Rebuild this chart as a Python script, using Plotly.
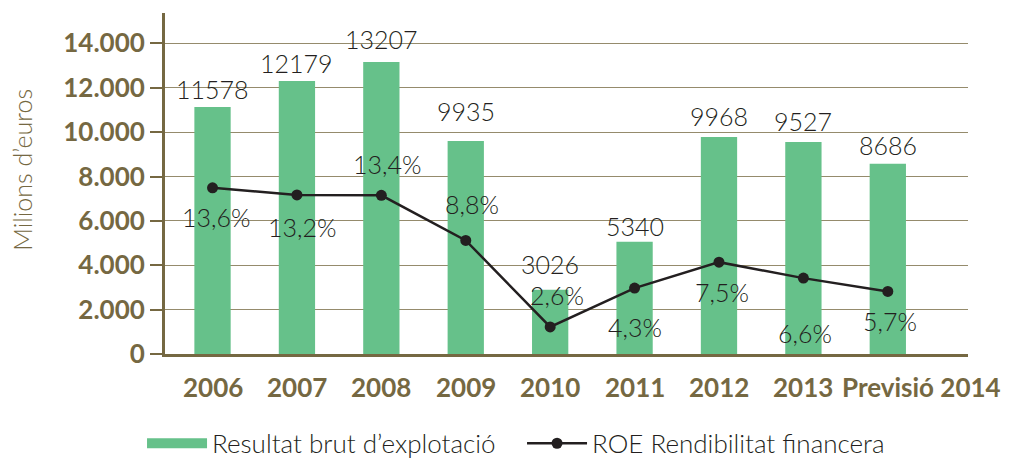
import plotly.graph_objects as go

categories = ["2006", "2007", "2008", "2009", "2010", "2011", "2012", "2013", "Previsió 2014"]
bar_values = [11130, 12310, 13160, 9600, 2900, 5060, 9780, 9560, 8570]
bar_labels = ["11578", "12179", "13207", "9935", "3026", "5340", "9968", "9527", "8686"]
roe_levels = [7490, 7170, 7150, 5120, 1220, 2970, 4140, 3420, 2820]
roe_labels = ["13,6%", "13,2%", "13,4%", "8,8%", "2,6%", "4,3%", "7,5%", "6,6%", "5,7%"]
y_tick_vals = [0, 2000, 4000, 6000, 8000, 10000, 12000, 14000]
y_tick_text = ["0", "2.000", "4.000", "6.000", "8.000", "10.000", "12.000", "14.000"]

# styling (pixel offsets for labels)
bar_label_yshift = [18, 18, 23, 30, 26, 16, 21, 21, 19]
roe_label_yshift = [-29, -32, 31, 36, 32, -39, -30, -55, -30]
roe_label_xshift = [3, 5, 6, 6, 7, 0, 3, 2, 2]
cat_label_xshift = [0, 0, 0, 0, 0, 0, 0, 0, 34]

GREEN = "#66c18a"
OLIVE = "#756842"
GRID = "#958b6c"
DARK = "#231f20"
FONT = "Lato"

x_idx = list(range(len(categories)))

fig = go.Figure()
fig.add_trace(go.Bar(
    x=x_idx, y=bar_values, marker=dict(color=GREEN, line=dict(width=0)),
    width=0.43, showlegend=False, hoverinfo="skip",
))
# legend proxy for the bars (wide swatch)
fig.add_trace(go.Scatter(
    x=[None], y=[None], mode="lines", line=dict(color=GREEN, width=13),
    name="Resultat brut d’explotació",
))
fig.add_trace(go.Scatter(
    x=x_idx, y=roe_levels, mode="lines+markers",
    line=dict(color=DARK, width=2.5),
    marker=dict(color=DARK, size=11),
    name="ROE Rendibilitat financera",
))

annotations = []
for i, (v, t) in enumerate(zip(bar_values, bar_labels)):
    annotations.append(dict(
        x=i, y=v, xref="x", yref="y", text=t, showarrow=False,
        yanchor="middle", yshift=bar_label_yshift[i],
        font=dict(family=FONT, size=25, color=DARK, weight=300),
    ))
for i, (v, t) in enumerate(zip(roe_levels, roe_labels)):
    annotations.append(dict(
        x=i, y=v, xref="x", yref="y", text=t, showarrow=False,
        yanchor="middle", yshift=roe_label_yshift[i], xshift=roe_label_xshift[i],
        font=dict(family=FONT, size=25, color=DARK, weight=300),
    ))
for i, c in enumerate(categories):
    annotations.append(dict(
        x=i, y=0, xref="x", yref="y", text=c, showarrow=False,
        yanchor="middle", yshift=-33, xshift=cat_label_xshift[i],
        font=dict(family=FONT, size=26, color=OLIVE, weight=700),
    ))
# y-axis title (placed like the reference, above the vertical centre)
annotations.append(dict(
    x=0, y=0.54, xref="paper", yref="paper", text="Milions d’euros",
    showarrow=False, textangle=-90, xanchor="center", yanchor="middle",
    xshift=-143,
    font=dict(family=FONT, size=25, color=OLIVE, weight=300),
))

fig.update_layout(
    width=1011, height=460,
    margin=dict(l=165, r=43, t=13, b=106, autoexpand=False),
    plot_bgcolor="white", paper_bgcolor="white",
    font=dict(family=FONT, color=DARK),
    annotations=annotations,
    legend=dict(
        orientation="h", x=-0.0286, xanchor="left", y=-0.262, yanchor="middle",
        font=dict(family=FONT, size=26, color=DARK, weight=300),
        itemwidth=60, tracegroupgap=0, entrywidth=305, entrywidthmode="pixels",
    ),
    xaxis=dict(
        range=[-0.563, 8.95], showticklabels=False, showgrid=False,
        showline=True, linecolor=OLIVE, linewidth=3, zeroline=False,
        ticks="", fixedrange=True, automargin=False,
    ),
    yaxis=dict(
        range=[0, 15370], tickvals=y_tick_vals, ticktext=y_tick_text,
        showgrid=True, gridcolor=GRID, gridwidth=1.3,
        showline=True, linecolor=OLIVE, linewidth=3, zeroline=False,
        ticks="outside", ticklen=12, tickcolor=OLIVE, tickwidth=1.5,
        tickfont=dict(family=FONT, size=26, color=OLIVE, weight=700),
        fixedrange=True, automargin=False,
    ),
)

fig.write_html(
    "out.html",
    config={"displayModeBar": False},
    post_script="document.body.style.margin='0';document.body.style.overflow='hidden';",
)
